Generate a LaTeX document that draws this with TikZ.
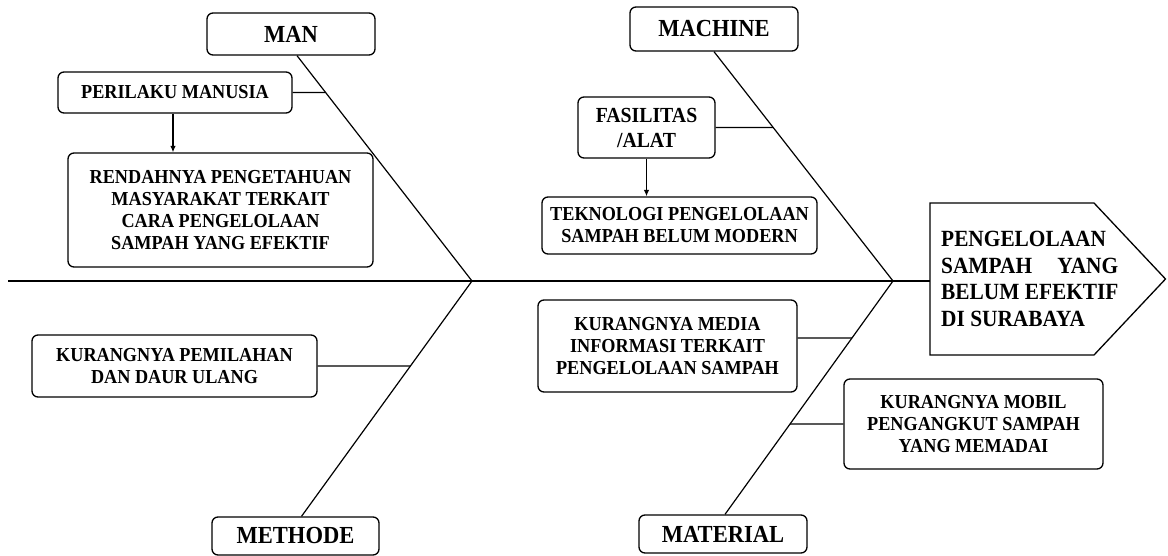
\documentclass[tikz,border=0pt]{standalone}
\usepackage{fontspec}
\setmainfont{Liberation Serif}
\newfontfamily\cfont[FakeStretch=0.92]{Liberation Serif}
\usetikzlibrary{arrows.meta,calc}
\begin{document}
\begin{tikzpicture}[x=1pt,y=-1pt,
  box/.style={draw,line width=1.3pt,rounded corners=6pt,inner sep=0pt,align=center,
    font=\cfont\bfseries\fontsize{19.8}{22}\selectfont},
  bigbox/.style={box,font=\cfont\bfseries\fontsize{24.5}{26}\selectfont},
  bone/.style={line width=1.2pt},
  arr/.style={line width=1.2pt,-{Latex[length=6.5pt,width=5.5pt]}}
]
\useasboundingbox (0,0) rectangle (1168,556);

% main category boxes
\node[bigbox,minimum width=168pt,minimum height=42pt] (man) at (291,34) {MAN};
\node[bigbox,minimum width=168pt,minimum height=44pt] (machine) at (714,29) {MACHINE};
\node[bigbox,minimum width=167pt,minimum height=38pt] (methode) at (295.5,536) {METHODE};
\node[bigbox,minimum width=168pt,minimum height=38pt] (material) at (723,534) {MATERIAL};

% cause boxes
\node[box,minimum width=234pt,minimum height=41pt] (perilaku) at (175,92.5) {PERILAKU MANUSIA};
\node[box,minimum width=305pt,minimum height=114pt] (rendah) at (220.5,210)
  {RENDAHNYA PENGETAHUAN\\MASYARAKAT TERKAIT\\CARA PENGELOLAAN\\SAMPAH YANG EFEKTIF};
\node[box,minimum width=137pt,minimum height=61pt,font=\cfont\bfseries\fontsize{21.5}{25}\selectfont] (fasilitas) at (646.5,127.5)
  {FASILITAS\\/ALAT};
\node[box,minimum width=275pt,minimum height=57pt] (teknologi) at (679.5,225.5)
  {TEKNOLOGI PENGELOLAAN\\SAMPAH BELUM MODERN};
\node[box,minimum width=285pt,minimum height=62pt] (pemilahan) at (174.5,366)
  {KURANGNYA PEMILAHAN\\DAN DAUR ULANG};
\node[box,minimum width=259pt,minimum height=92pt] (media) at (667.5,346)
  {KURANGNYA MEDIA\\INFORMASI TERKAIT\\PENGELOLAAN SAMPAH};
\node[box,minimum width=259pt,minimum height=90pt] (mobil) at (973.5,424)
  {KURANGNYA MOBIL\\PENGANGKUT SAMPAH\\YANG MEMADAI};

% head
\draw[line width=1.3pt] (930,203) -- (1094,203) -- (1165.5,279) -- (1094,355) -- (930,355) -- cycle;
\node[anchor=west,inner sep=0pt,align=left,font=\cfont\bfseries\fontsize{23.2}{26.7}\selectfont] (head) at (941,279)
  {PENGELOLAAN\\\hbox to 177pt{SAMPAH\hfill YANG}\\BELUM EFEKTIF\\DI SURABAYA};

% spine and bones
\coordinate (s0) at (8,281);
\coordinate (headL) at (930,281);
\coordinate (jL) at (472,281);
\coordinate (jR) at (893,281);
\draw[bone] (s0) -- (headL);
\coordinate (manT) at ([xshift=6pt]man.south);
\coordinate (machT) at (machine.south);
\coordinate (methT) at ([xshift=6pt]methode.north);
\coordinate (matT) at ([xshift=2pt]material.north);
\draw[bone] (manT) -- (jL);
\draw[bone] (methT) -- (jL);
\draw[bone] (machT) -- (jR);
\draw[bone] (matT) -- (jR);

% branch connectors
\draw[bone] (perilaku.east) -- (intersection cs: first line={(perilaku.east)--([xshift=10pt]perilaku.east)}, second line={(manT)--(jL)});
\draw[bone] (fasilitas.east) -- (intersection cs: first line={(fasilitas.east)--([xshift=10pt]fasilitas.east)}, second line={(machT)--(jR)});
\draw[bone] (pemilahan.east) -- (intersection cs: first line={(pemilahan.east)--([xshift=10pt]pemilahan.east)}, second line={(methT)--(jL)});
\coordinate (mediaC) at ([yshift=8pt]media.east);
\draw[bone] (mediaC) -- (intersection cs: first line={(mediaC)--([xshift=10pt]mediaC)}, second line={(matT)--(jR)});
\draw[bone] (mobil.west) -- (intersection cs: first line={(mobil.west)--([xshift=10pt]mobil.west)}, second line={(matT)--(jR)});

% arrows
\draw[arr] ([xshift=-2pt]perilaku.south) -- ([xshift=-2pt]perilaku.south |- rendah.north);
\draw[arr] (fasilitas.south) -- (fasilitas.south |- teknologi.north);
\end{tikzpicture}
\end{document}
